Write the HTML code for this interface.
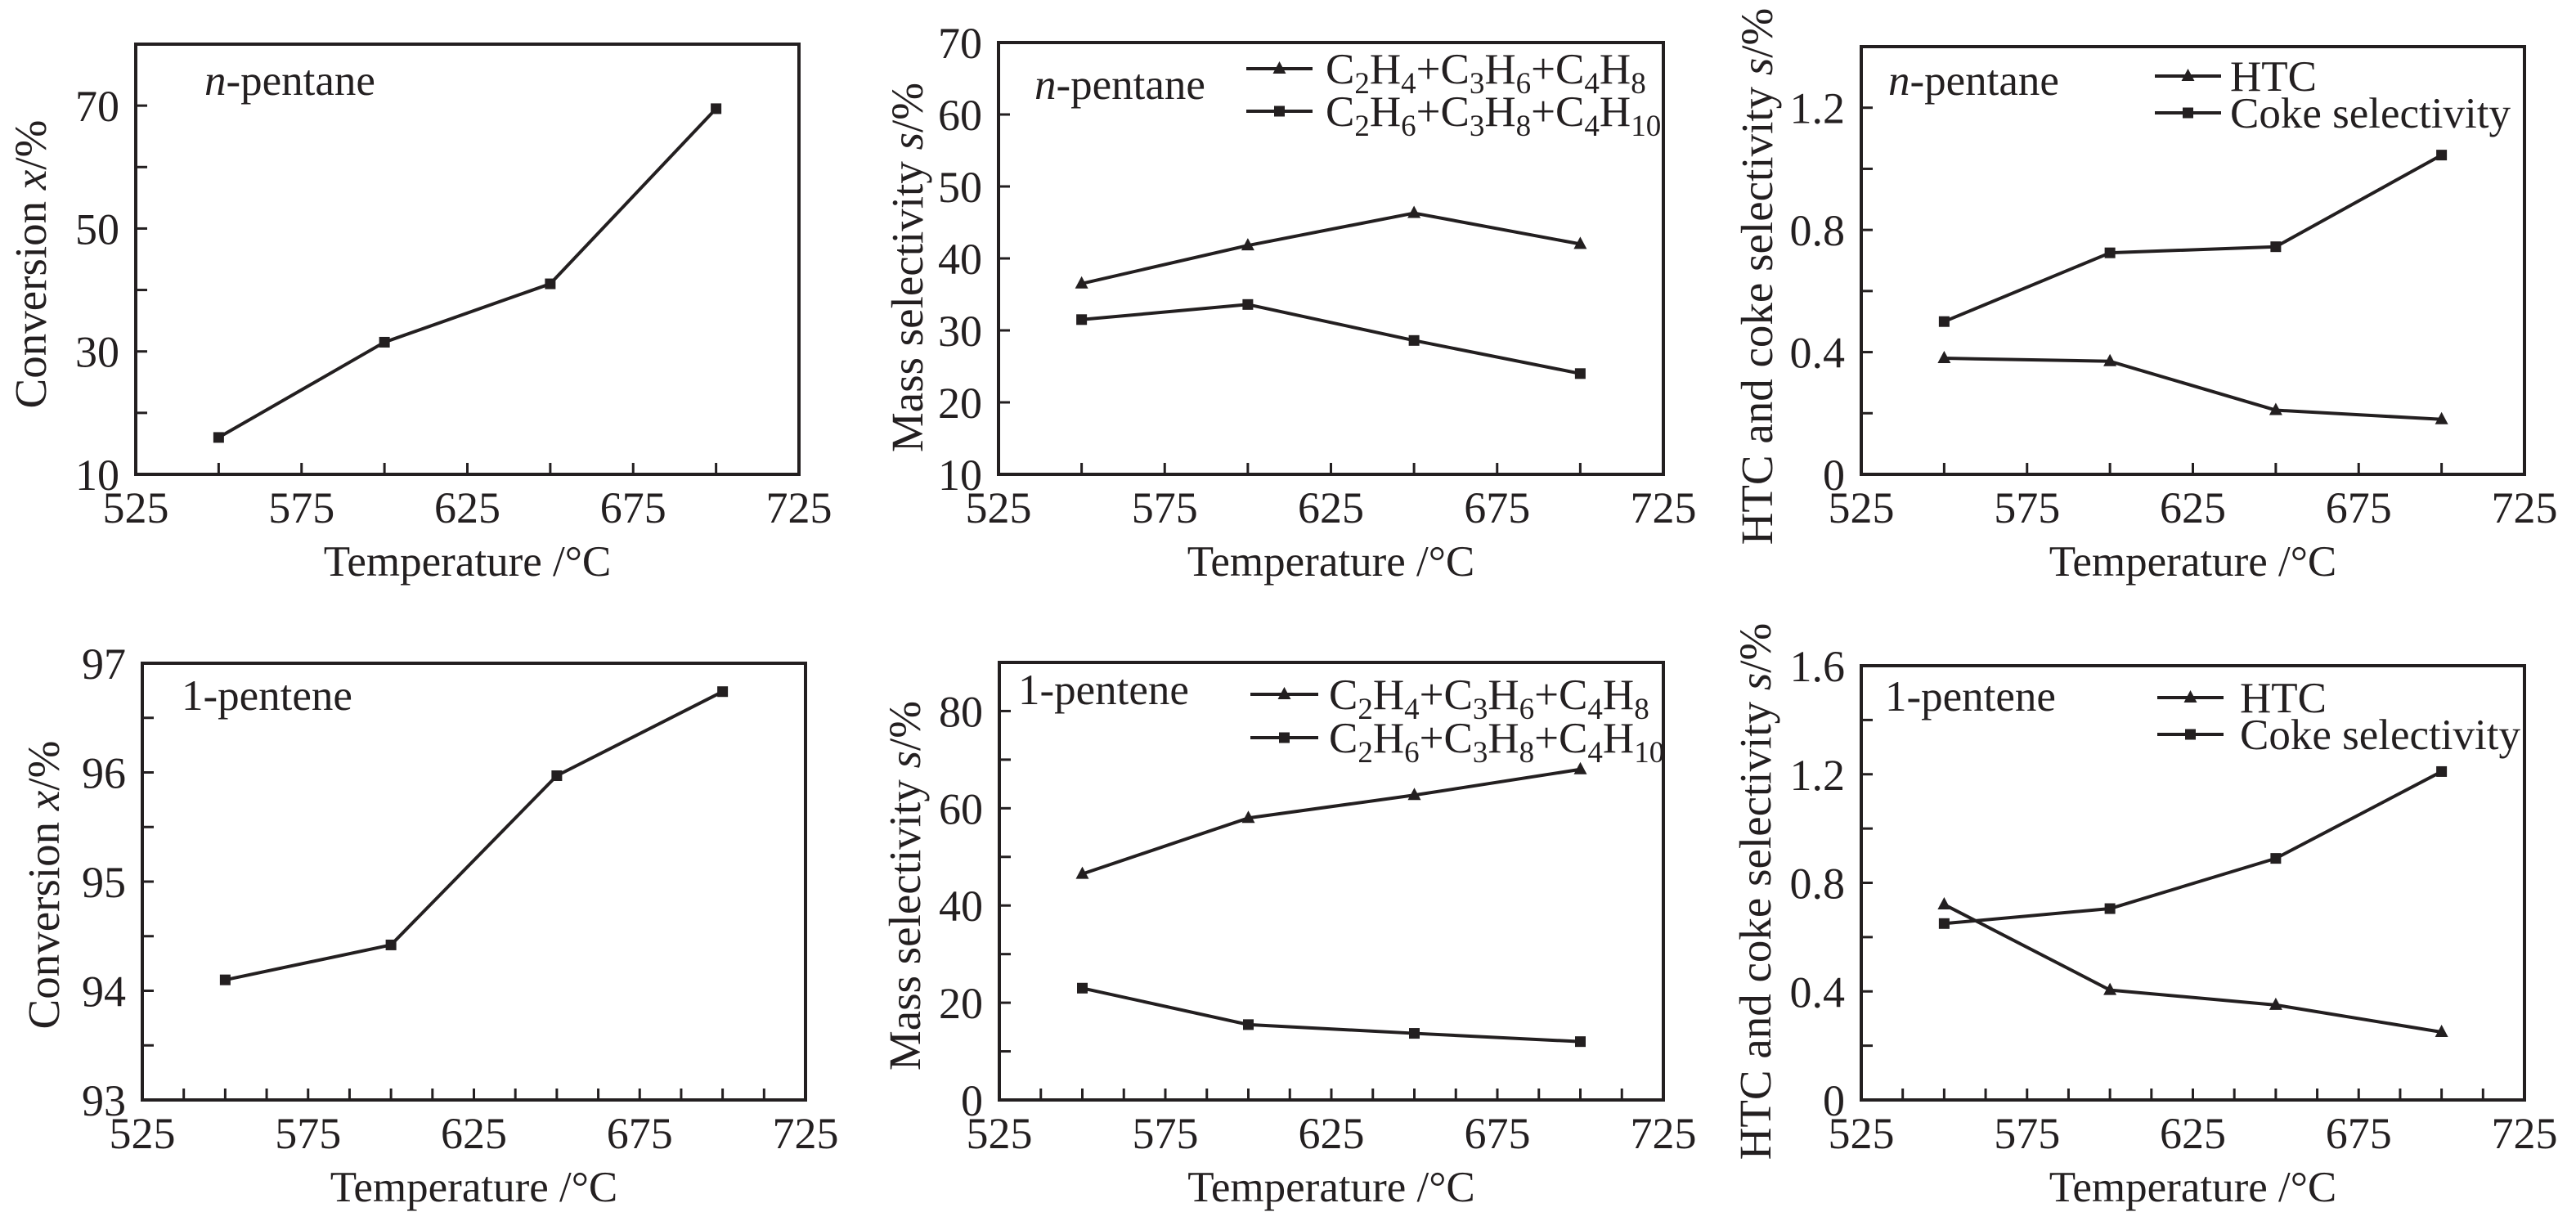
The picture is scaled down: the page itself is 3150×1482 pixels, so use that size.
<!DOCTYPE html>
<html><head><meta charset="utf-8"><style>
html,body{margin:0;padding:0;background:#fff}
svg{display:block}
text{font-family:"Liberation Serif",serif;fill:#231f20}
</style></head><body>
<svg id="fig" width="3150" height="1482" viewBox="0 0 3150 1482" xmlns="http://www.w3.org/2000/svg"></svg>
<script>
const temps = [550, 600, 650, 700];
const convPentane = [16, 31.5, 41, 69.5];
const olefinPentane = [36.5, 41.8, 46.3, 42];
const paraffinPentane = [31.5, 33.6, 28.6, 24];
const htcPentane = [0.38, 0.37, 0.21, 0.18];
const cokePentane = [0.5, 0.725, 0.745, 1.045];
const convPentene = [94.1, 94.42, 95.97, 96.74];
const olefinPentene = [46.5, 58, 62.7, 68];
const paraffinPentene = [23, 15.5, 13.7, 12];
const htcPentene = [0.72, 0.405, 0.35, 0.25];
const cokePentene = [0.65, 0.705, 0.89, 1.21];
const xTickLabels = [525, 575, 625, 675, 725];
const yLabelsTL = [10, 30, 50, 70];
const yLabelsTM = [10, 20, 30, 40, 50, 60, 70];
const yLabelsTR = [0, 0.4, 0.8, 1.2];
const yLabelsBL = [93, 94, 95, 96, 97];
const yLabelsBM = [0, 20, 40, 60, 80];
const yLabelsBR = [0, 0.4, 0.8, 1.2, 1.6];

const NS = 'http://www.w3.org/2000/svg';
const svg = document.getElementById('fig');
function mk(tag, attrs, parent) {
  const e = document.createElementNS(NS, tag);
  for (const k in attrs) e.setAttribute(k, attrs[k]);
  (parent || svg).appendChild(e);
  return e;
}
function fmt(v) { return (Math.abs(v) < 1e-9) ? '0' : (Number.isInteger(v) ? String(v) : v.toFixed(1)); }

const panels = [
  {id:'tl', x0:166, x1:977, y0:54, y1:580, ymin:10, ymax:80, labels:yLabelsTL, ystep:10, xstep:25, tag:'n', series:[{v:convPentane, m:'sq'}], legend:null, ytitle:['Conversion ', 'x', '/%'], ann:[250,116], tx:56, tcy:323},
  {id:'tm', x0:1221, x1:2034, y0:52, y1:580, ymin:10, ymax:70, labels:yLabelsTM, ystep:10, xstep:25, tag:'n', series:[{v:olefinPentane, m:'tri'}, {v:paraffinPentane, m:'sq'}], legend:{lx0:1524, lx1:1605, ys:[84,136], tx:1621, kind:'gas'}, ytitle:['Mass selectivity ', 's', '/%'], ann:[1265,121], tx:1128, tcy:327},
  {id:'tr', x0:2276, x1:3087, y0:57, y1:580, ymin:0, ymax:1.4, labels:yLabelsTR, ystep:0.2, xstep:25, tag:'n', series:[{v:htcPentane, m:'tri'}, {v:cokePentane, m:'sq'}], legend:{lx0:2635, lx1:2716, ys:[93,138], tx:2727, kind:'htc'}, ytitle:['HTC and coke selectivity ', 's', '/%'], ann:[2309,116], tx:2167, tcy:338},
  {id:'bl', x0:174, x1:985, y0:811, y1:1345, ymin:93, ymax:97, labels:yLabelsBL, ystep:0.5, xstep:12.5, tag:'1', series:[{v:convPentene, m:'sq'}], legend:null, ytitle:['Conversion ', 'x', '/%'], ann:[222,868], tx:72, tcy:1082},
  {id:'bm', x0:1222, x1:2034, y0:810, y1:1345, ymin:0, ymax:90, labels:yLabelsBM, ystep:10, xstep:12.5, tag:'1', series:[{v:olefinPentene, m:'tri'}, {v:paraffinPentene, m:'sq'}], legend:{lx0:1529, lx1:1612, ys:[849,902], tx:1625, kind:'gas'}, ytitle:['Mass selectivity ', 's', '/%'], ann:[1245,861], tx:1125, tcy:1083},
  {id:'br', x0:2276, x1:3087, y0:814, y1:1345, ymin:0, ymax:1.6, labels:yLabelsBR, ystep:0.2, xstep:12.5, tag:'1', series:[{v:htcPentene, m:'tri'}, {v:cokePentene, m:'sq'}], legend:{lx0:2638, lx1:2719, ys:[853,898], tx:2739, kind:'htc'}, ytitle:['HTC and coke selectivity ', 's', '/%'], ann:[2305,869], tx:2165, tcy:1090}
];

function marker(g, m, cx, cy) {
  if (m === 'sq') {
    const r = mk('rect', {x:cx-6.5, y:cy-6.5, width:13, height:13, fill:'#231f20'}, g);
    
    
  } else {
    const p = mk('polygon', {points:`${cx},${cy-9} ${cx-8},${cy+6} ${cx+8},${cy+6}`, fill:'#231f20'}, g);
    
    
  }
}

panels.forEach(P => {
  const g = mk('g', {});
  
  
  const X = t => P.x0 + (t - 525) / 200 * (P.x1 - P.x0);
  const Y = v => P.y1 - (v - P.ymin) / (P.ymax - P.ymin) * (P.y1 - P.y0);
  const frame = mk('rect', {x:P.x0, y:P.y0, width:P.x1-P.x0, height:P.y1-P.y0, fill:'none', stroke:'#231f20', 'stroke-width':4}, g);
  
  
  for (let t = 525 + P.xstep; t < 725 - 0.01; t += P.xstep) {
    const l = mk('line', {x1:X(t), x2:X(t), y1:P.y1, y2:P.y1-14, stroke:'#231f20', 'stroke-width':3}, g);
    
    
  }
  xTickLabels.forEach(t => {
    const tx = mk('text', {x:X(t), y:P.y1+59, 'font-size':54, 'text-anchor':'middle'}, g);
    tx.textContent = t;
    
    
  });
  const n = Math.round((P.ymax - P.ymin) / P.ystep);
  for (let i = 1; i < n; i++) {
    const v = P.ymin + i * P.ystep;
    const l = mk('line', {x1:P.x0, x2:P.x0+14, y1:Y(v), y2:Y(v), stroke:'#231f20', 'stroke-width':3}, g);
    
    
  }
  P.labels.forEach(v => {
    const tx = mk('text', {x:P.x0-20, y:Y(v)+19, 'font-size':54, 'text-anchor':'end'}, g);
    tx.textContent = fmt(v);
    
    
  });
  const xt = mk('text', {x:(P.x0+P.x1)/2, y:P.y1+124, 'font-size':53, 'text-anchor':'middle'}, g);
  xt.textContent = 'Temperature /°C';
  
  
  const yt = mk('text', {transform:`translate(${P.tx},${P.tcy}) rotate(-90)`, 'font-size':55, 'text-anchor':'middle'}, g);
  
  
  const s1 = mk('tspan', {}, yt); s1.textContent = P.ytitle[0];
  const s2 = mk('tspan', {'font-style':'italic'}, yt); s2.textContent = P.ytitle[1];
  const s3 = mk('tspan', {}, yt); s3.textContent = P.ytitle[2];
  const an = mk('text', {x:P.ann[0], y:P.ann[1], 'font-size':53}, g);
  
  
  if (P.tag === 'n') {
    const a1 = mk('tspan', {'font-style':'italic'}, an); a1.textContent = 'n';
    const a2 = mk('tspan', {}, an); a2.textContent = '-pentane';
  } else {
    an.textContent = '1-pentene';
  }
  P.series.forEach((s, si) => {
    const pts = temps.map((t, i) => X(t) + ',' + Y(s.v[i])).join(' ');
    const pl = mk('polyline', {points:pts, fill:'none', stroke:'#231f20', 'stroke-width':4, 'stroke-linejoin':'round'}, g);
    
    
    temps.forEach((t, i) => marker(g, s.m, X(t), Y(s.v[i])));
  });
  if (P.legend) {
    const L = P.legend;
    P.series.forEach((s, si) => {
      const y = L.ys[si];
      const lg = mk('g', {}, g);
      
      
      mk('line', {x1:L.lx0, x2:L.lx1, y1:y, y2:y, stroke:'#231f20', 'stroke-width':4}, lg);
      marker(lg, s.m, (L.lx0+L.lx1)/2, y);
      const t = mk('text', {x:L.tx, y:y+18, 'font-size':53}, lg);
      if (L.kind === 'htc') {
        t.textContent = si === 0 ? 'HTC' : 'Coke selectivity';
      } else {
        const parts = si === 0 ? [['C',''],['2','s'],['H',''],['4','s'],['+C',''],['3','s'],['H',''],['6','s'],['+C',''],['4','s'],['H',''],['8','s']]
                               : [['C',''],['2','s'],['H',''],['6','s'],['+C',''],['3','s'],['H',''],['8','s'],['+C',''],['4','s'],['H',''],['10','s']];
        let prevSub = false;
        parts.forEach(p => {
          const isSub = p[1] === 's';
          const attrs = isSub ? {'font-size':37} : {};
          attrs.dy = isSub ? (prevSub ? 0 : 12) : (prevSub ? -12 : 0);
          const ts = mk('tspan', attrs, t);
          ts.textContent = p[0];
          prevSub = isSub;
        });
      }
    });
  }
});
</script>
</body></html>
